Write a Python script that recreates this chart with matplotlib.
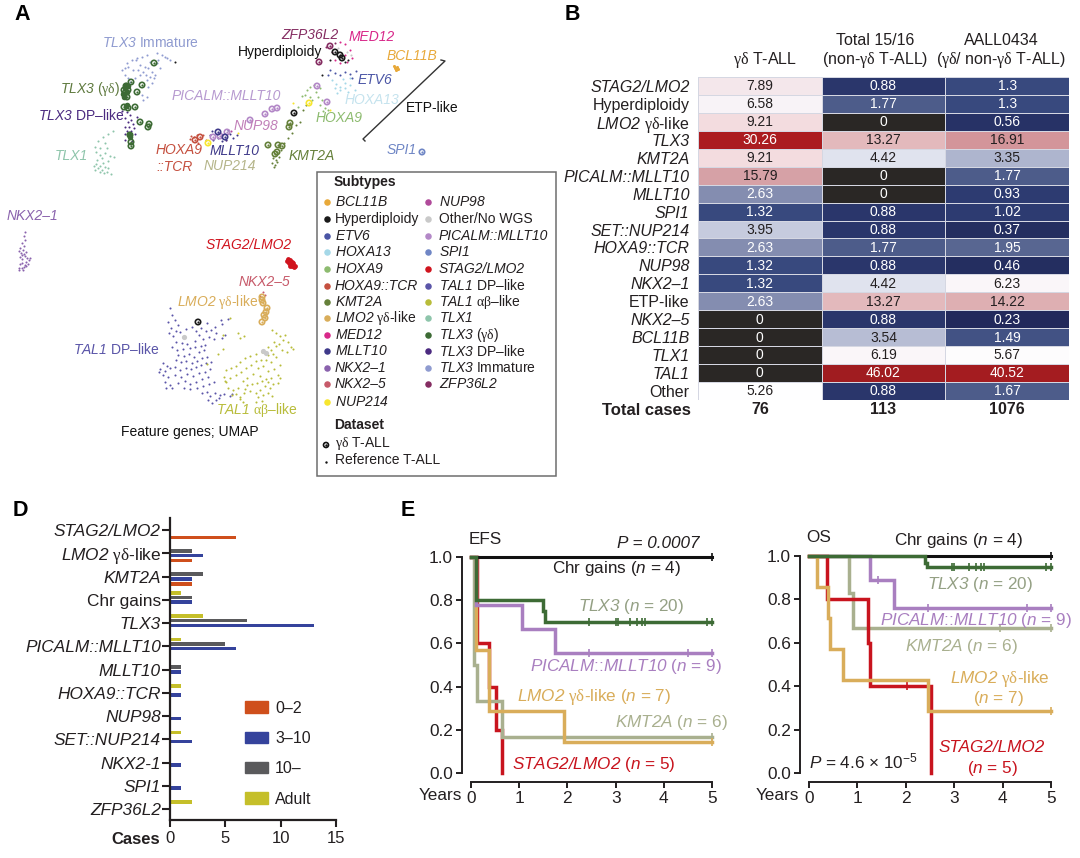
import matplotlib
matplotlib.use("Agg")
import matplotlib.pyplot as plt
from matplotlib.colors import LinearSegmentedColormap
from matplotlib.patches import Rectangle, Patch
import numpy as np

plt.rcParams.update({
    "font.family": ["Liberation Sans", "DejaVu Sans"],
    "mathtext.fontset": "custom",
    "mathtext.rm": "Liberation Sans:italic",
    "mathtext.it": "Liberation Sans:italic",
    "mathtext.bf": "Liberation Sans:bold",
    "mathtext.cal": "Liberation Serif",
    "mathtext.default": "regular",
    "text.color": "#231f20",
    "axes.edgecolor": "#231f20",
    "xtick.color": "#231f20",
    "ytick.color": "#231f20",
})
GD = r"$\mathcal{γδ}$"
AB = r"$\mathcal{αβ}$"
W, H = 1080, 858

# ---- Panel A: UMAP points (in panel pixel units) ----
tlx3_immature = [(127,63),(132,60),(137,58),(142,57),(147,55),(157,53),(162,55),(167,58),(170,60),(122,70),(125,68),(128,67),(133,70),(140,65),(145,67),(148,68),(143,72),(152,72),(157,63),(160,68),(155,75),(150,77),(154,78),(147,80),(125,75),(128,78),(135,78),(143,100),(147,97),(142,95),(152,83),(148,87),(140,75),(130,82),(136,60),(150,62),(158,60),(165,57),(146,75),(138,70)]
tlx3_dp = [(127,112),(130,115),(125,118),(131,120),(128,122),(133,124),(125,127),(129,127),(134,128),(127,131),(131,131),(125,134),(130,135),(135,134),(129,138),(125,140),(132,141),(137,117),(122,111)]
tlx3_gd_blob = [(125,88),(127,92),(123,94),(126,85),(128,86),(124,97),(126,106),(127,105),(129,134),(130,137)]
tlx3_gd_rings = [(154,63),(131,82),(142,85),(137,92),(126,86),(124,90),(128,90),(125,93),(127,97),(124,107),(128,108),(135,107),(140,122),(149,124),(148,127),(130,135),(131,142),(131,146)]
tlx1 = [(113,131),(108,134),(103,137),(98,141),(105,143),(95,147),(100,148),(107,148),(96,152),(100,155),(105,153),(110,156),(114,157),(97,160),(102,158),(108,161),(103,163),(96,164),(100,166),(94,166),(105,167),(98,168),(108,168),(102,170),(95,170),(107,172),(111,174),(100,172),(104,173)]
picalm_rings = [(265,114),(272,109),(277,108),(250,120),(213,137),(220,136),(227,132),(317,86),(327,102)]
nup98 = [(226,140),(222,135),(231,131)]
hoxa9tcr = [(191,136),(194,137),(198,143),(190,139),(203,135),(206,140),(197,135)]
hoxa9tcr_rings = [(195,140),(200,137)]
mllt10 = [(210,135),(213,140),(218,138),(222,141),(226,140),(230,134),(233,138),(228,130),(237,135),(212,131)]
mllt10_rings = [(218,132),(225,137)]
nup214 = [(238,133),(293,103),(330,110)]
nup214_rings = [(208,143),(309,103)]
kmt2a = [(273,158),(276,160),(272,163),(275,165),(277,162),(279,157),(281,150),(284,143),(288,138),(292,133),(296,125),(300,122),(303,110),(306,105),(274,167)]
kmt2a_rings = [(268,145),(278,145),(282,146),(277,152),(275,154),(290,123),(289,127)]
hoxa9 = [(307,90),(310,87),(314,85),(316,92),(320,88),(305,95),(310,97),(318,97),(322,100),(312,100),(320,105),(325,108),(323,111),(328,110),(302,96),(298,107)]
hoxa13 = [(332,80),(336,84),(340,87),(345,83),(340,90),(335,88),(345,88),(350,85),(350,78),(343,79),(337,93),(355,90),(348,92)]
etv6 = [(330,70),(335,73),(328,75),(345,72),(350,74),(356,71),(340,75),(352,78)]
med12 = [(340,42),(345,44),(350,50),(352,58),(347,62),(340,63),(335,60),(345,55)]
zfp = [(326,47),(335,43),(332,52)]
zfp_rings = [(330,46),(319,62)]
hyper = [(175,62),(330,60),(348,60),(322,75),(345,62)]
hyper_rings = [(335,52),(340,55),(342,58),(294,113),(198,322)]
other_nowgs = [(347,52),(351,55),(338,48)]
other_big = [(184,337),(266,353),(263,351)]
bcl11b = [(395,68),(397,67),(396,70),(394,66),(398,69)]
spi1_rings = [(422,152)]
nkx21 = [(25,232),(24,236),(25,240),(22,243),(24,246),(20,248),(23,250),(19,251),(26,252),(21,253),(24,254),(22,255),(25,256),(20,257),(27,258),(22,259),(29,260),(26,262),(22,263),(20,264),(25,265),(28,264),(24,267),(19,268),(22,268),(26,266),(19,270),(23,270),(30,258)]
stag2 = [(288,259),(290,260),(292,262),(289,263),(291,264),(293,265),(294,267),(290,266),(292,266),(287,261),(293,263),(295,266),(289,261),(291,262)]
nkx25 = [(263,292),(265,295),(260,296)]
lmo2_rings = [(262,297),(262,300),(263,303),(267,308),(266,312),(264,315),(265,318),(262,322)]
tal1_dp = [(170,308),(172,315),(168,322),(175,320),(178,325),(171,328),(176,331),(169,333),(180,332),(173,336),(183,337),(186,329),(192,327),(196,331),(201,328),(206,331),(211,330),(216,333),(221,320),(222,324),(228,319),(215,327),(207,323),(199,335),(203,339),(195,341),(209,337),(214,339),(225,335),(222,338),(176,342),(182,343),(187,344),(172,347),(177,350),(183,349),(190,348),(195,347),(201,346),(205,345),(178,355),(184,356),(189,354),(194,357),(199,352),(204,350),(186,361),(181,362),(176,360),(192,363),(197,361),(202,358),(207,357),(163,363),(167,366),(160,369),(165,371),(170,368),(159,372),(175,367),(180,370),(186,368),(191,369),(196,367),(201,365),(206,363),(211,362),(163,375),(168,377),(175,375),(181,377),(187,374),(193,376),(199,373),(205,372),(210,369),(165,382),(170,385),(166,388),(172,388),(178,383),(185,381),(190,384),(196,382),(202,379),(208,377),(184,388),(190,389),(197,388),(203,386),(209,384),(214,382),(207,392),(202,393),(210,396),(215,393),(220,395),(208,400),(212,403),(219,398),(224,394),(216,400),(230,396),(232,394)]
tal1_ab = [(230,318),(238,333),(223,335),(240,338),(218,354),(207,364),(223,349),(244,336),(272,330),(276,333),(280,336),(285,335),(274,342),(279,344),(283,340),(288,342),(291,347),(293,349),(287,352),(282,350),(276,346),(271,350),(268,347),(273,354),(268,355),(262,352),(256,354),(250,356),(245,358),(240,362),(236,366),(231,368),(226,370),(256,361),(261,360),(266,360),(271,362),(276,357),(251,365),(246,368),(241,372),(236,375),(230,378),(225,381),(224,377),(226,382),(258,368),(263,366),(268,371),(274,369),(280,365),(278,375),(271,378),(266,379),(260,376),(253,374),(247,378),(243,381),(247,385),(252,384),(257,383),(262,381),(268,382),(273,384),(278,383),(280,378),(270,388),(265,386),(260,390),(256,393),(250,391),(245,389),(238,388),(233,390),(236,394),(240,397),(244,393),(232,395),(258,397),(263,395),(268,393),(272,396),(256,402),(262,401),(243,402),(240,399),(228,388)]

subtypes_left = [r"$\mathit{BCL11B}$", "Hyperdiploidy", r"$\mathit{ETV6}$", r"$\mathit{HOXA13}$", r"$\mathit{HOXA9}$", "HOXA9::TCR", r"$\mathit{KMT2A}$", r"$\mathit{LMO2}$ " + GD + "-like", r"$\mathit{MED12}$", r"$\mathit{MLLT10}$", "NKX2–1", "NKX2–5", r"$\mathit{NUP214}$"]
subtypes_right = [r"$\mathit{NUP98}$", "Other/No WGS", "PICALM::MLLT10", r"$\mathit{SPI1}$", "STAG2/LMO2", r"$\mathit{TAL1}$ DP–like", r"$\mathit{TAL1}$ " + AB + "–like", r"$\mathit{TLX1}$", r"$\mathit{TLX3}$ (" + GD + ")", r"$\mathit{TLX3}$ DP–like", r"$\mathit{TLX3}$ Immature", r"$\mathit{ZFP36L2}$"]
colors_left = ["#e8a93a", "#1a1a1a", "#4a55a5", "#a5d8e8", "#8dbb6f", "#c5503f", "#65803a", "#d9ad5a", "#d8298a", "#3f3a8a", "#8a62ad", "#c75a6a", "#f7e62e"]
colors_right = ["#b04a9a", "#c9c9c9", "#b388c7", "#6f86c5", "#d0141e", "#5a55a8", "#b8bc3a", "#8ec5ab", "#3d6b35", "#4b2a80", "#8f9bd0", "#852d62"]
ITALIC_ENTRIES = {"HOXA9::TCR", "NKX2–1", "NKX2–5", "PICALM::MLLT10", "STAG2/LMO2"}

# ---- Panel B values ----
heat_rows = ["STAG2/LMO2", "Hyperdiploidy", r"$\mathit{LMO2}$ " + GD + "-like", "TLX3", "KMT2A", "PICALM::MLLT10", "MLLT10", "SPI1", "SET::NUP214", "HOXA9::TCR", "NUP98", "NKX2–1", "ETP-like", "NKX2–5", "BCL11B", "TLX1", "TAL1", "Other"]
heat_upright = {"Hyperdiploidy", "ETP-like", "Other", heat_rows[2]}
gd_tall = [7.89, 6.58, 9.21, 30.26, 9.21, 15.79, 2.63, 1.32, 3.95, 2.63, 1.32, 1.32, 2.63, 0, 0, 0, 0, 5.26]
total1516 = [0.88, 1.77, 0, 13.27, 4.42, 0, 0, 0.88, 0.88, 1.77, 0.88, 4.42, 13.27, 0.88, 3.54, 6.19, 46.02, 0.88]
aall0434 = [1.3, 1.3, 0.56, 16.91, 3.35, 1.77, 0.93, 1.02, 0.37, 1.95, 0.46, 6.23, 14.22, 0.23, 1.49, 5.67, 40.52, 1.67]
heat_cols = [GD + " T-ALL", "Total 15/16\n(non-" + GD + " T-ALL)", "AALL0434\n(" + GD + "/ non-" + GD + " T-ALL)"]
total_cases = ["76", "113", "1076"]

# ---- Panel D values ----
d_cats = ["STAG2/LMO2", r"$\mathit{LMO2}$ " + GD + "-like", "KMT2A", "Chr gains", "TLX3", "PICALM::MLLT10", "MLLT10", "HOXA9::TCR", "NUP98", "SET::NUP214", "NKX2-1", "SPI1", "ZFP36L2"]
age_0_2 = [6, 2, 2, 0, 0, 0, 0, 0, 0, 0, 0, 0, 0]
age_3_10 = [0, 3, 2, 2, 13, 6, 1, 1, 1, 2, 1, 1, 0]
age_10p = [0, 2, 3, 2, 7, 5, 1, 0, 0, 0, 0, 0, 0]
age_adult = [0, 0, 0, 1, 3, 1, 0, 1, 0, 1, 0, 0, 2]

# ---- Panel E values: step curves (years, survival) and censor times ----
COL_RED, COL_LMO, COL_KMT, COL_PIC, COL_TLX, COL_BLK = "#c8141e", "#d9ad5a", "#a9b08f", "#a97fc0", "#3d6b35", "#111111"
COL_TLX_TEXT = "#94a084"
efs_chr = ([0, 5], [1, 1])
efs_tlx3 = ([0, 0.1, 1.5, 1.54, 5], [1, 0.8, 0.75, 0.7, 0.7])
efs_pic = ([0, 0.1, 1.05, 1.75, 5], [1, 0.78, 0.667, 0.556, 0.556])
efs_lmo2 = ([0, 0.1, 0.38, 1.93, 5], [1, 0.57, 0.286, 0.143, 0.143])
efs_kmt = ([0, 0.07, 0.12, 0.65, 5], [1, 0.5, 0.333, 0.167, 0.167])
efs_stag = ([0, 0.13, 0.38, 0.52, 0.65], [1, 0.6, 0.4, 0.2, 0.0])
efs_tlx3_cens = [2.45, 3.0, 3.05, 3.3, 3.45, 3.55, 3.62, 4.9, 5]
efs_pic_cens = [2.45, 4.5, 5]
os_chr = ([0, 5], [1, 1])
os_tlx3 = ([0, 2.4, 2.43, 5], [1, 0.97, 0.95, 0.95])
os_pic = ([0, 1.27, 1.75, 5], [1, 0.89, 0.76, 0.76])
os_kmt = ([0, 0.82, 0.9, 5], [1, 0.83, 0.667, 0.667])
os_lmo2 = ([0, 0.17, 0.4, 0.43, 0.7, 2.45, 5], [1, 0.857, 0.714, 0.57, 0.43, 0.286, 0.286])
os_stag = ([0, 0.38, 1.22, 1.27, 2.53], [1, 0.8, 0.6, 0.4, 0.0])
os_tlx3_cens = [2.95, 3.0, 3.3, 3.45, 3.55, 3.62, 4.9, 5]
os_pic_cens = [1.42, 2.45, 4.5, 5]
os_kmt_cens = [3.95, 5]
os_stag_cens = [2.03]
os_lmo2_cens = [5]

fig = plt.figure(figsize=(10.8, 8.58), dpi=100, facecolor="white")

def box(x0, y0, x1, y1):
    return fig.add_axes([x0 / W, 1 - y1 / H, (x1 - x0) / W, (y1 - y0) / H])

for letter, x, y in [("A", 14, 14), ("B", 565, 15), ("D", 13, 511), ("E", 401, 511)]:
    fig.text(x / W, 1 - y / H, letter, fontsize=15.5, fontweight="bold", color="black", ha="left", va="center")

# ===== Panel A =====
axA = box(0, 0, 560, 480)
axA.set_xlim(0, 560); axA.set_ylim(480, 0); axA.axis("off")

def dots(pts, c, s=2.2, **kw):
    a = np.array(pts, float)
    axA.scatter(a[:, 0], a[:, 1], s=s, c=c, linewidths=0, **kw)

def rings(pts, c):
    a = np.array(pts, float)
    axA.scatter(a[:, 0], a[:, 1], s=15, facecolors="none", edgecolors=c, linewidths=1.2, zorder=3)
    axA.scatter(a[:, 0], a[:, 1], s=2.5, c=c, linewidths=0, zorder=3)

for pts, c in [(tlx3_immature, "#8f9bd0"), (tlx3_dp, "#4b2a80"), (tlx1, "#8ec5ab"), (nup98, "#b04a9a"),
               (hoxa9tcr, "#c5503f"), (mllt10, "#3f3a8a"), (nup214, "#f7e62e"), (kmt2a, "#65803a"),
               (hoxa9, "#8dbb6f"), (hoxa13, "#a5d8e8"), (etv6, "#4a55a5"), (med12, "#d8298a"),
               (zfp, "#852d62"), (hyper, "#1a1a1a"), (other_nowgs, "#c9c9c9"), (nkx21, "#8a62ad"),
               (nkx25, "#c75a6a"), (tal1_dp, "#5a55a8"), (tal1_ab, "#b8bc3a")]:
    dots(pts, c)
dots(tlx3_gd_blob, "#3d6b35", s=16)
dots(bcl11b, "#e8a93a", s=5)
dots(stag2, "#d0141e", s=12)
dots(other_big, "#c9c9c9", s=14)
for pts, c in [(tlx3_gd_rings, "#3d6b35"), (picalm_rings, "#b388c7"), (hoxa9tcr_rings, "#c5503f"),
               (mllt10_rings, "#3f3a8a"), (nup214_rings, "#f7e62e"), (kmt2a_rings, "#65803a"),
               (zfp_rings, "#852d62"), (hyper_rings, "#1a1a1a"), (spi1_rings, "#6f86c5"), (lmo2_rings, "#d9ad5a")]:
    rings(pts, c)

a_labels = [
    (102, 43, r"$\mathit{TLX3}$ Immature", "#8f9bd0", "normal"),
    (60, 89, r"$\mathit{TLX3}$ (" + GD + ")", "#5f7a3f", "normal"),
    (38, 115, r"$\mathit{TLX3}$ DP–like", "#4b2a80", "normal"),
    (55, 156, "TLX1", "#8ec5ab", "italic"),
    (172, 96, "PICALM::MLLT10", "#b79ad0", "italic"),
    (234, 126, "NUP98", "#c17fb8", "italic"),
    (156, 150, "HOXA9", "#c5503f", "italic"),
    (156, 167, "::TCR", "#c5503f", "italic"),
    (210, 151, "MLLT10", "#3f3a8a", "italic"),
    (204, 166, "NUP214", "#b5b58a", "italic"),
    (289, 156, "KMT2A", "#65803a", "italic"),
    (281, 35, "ZFP36L2", "#852d62", "italic"),
    (349, 37, "MED12", "#d8298a", "italic"),
    (238, 52, "Hyperdiploidy", "#111111", "normal"),
    (387, 56, "BCL11B", "#e8a93a", "italic"),
    (358, 80, "ETV6", "#4a55a5", "italic"),
    (345, 100, "HOXA13", "#c5e3ee", "italic"),
    (406, 108, "ETP-like", "#111111", "normal"),
    (316, 118, "HOXA9", "#8dbb6f", "italic"),
    (387, 150, "SPI1", "#6f86c5", "italic"),
    (7, 216, "NKX2–1", "#8a62ad", "italic"),
    (206, 245, "STAG2/LMO2", "#d0141e", "italic"),
    (239, 282, "NKX2–5", "#c75a6a", "italic"),
    (177, 302, r"$\mathit{LMO2}$ " + GD + "-like", "#d9ad5a", "normal"),
    (73, 349, r"$\mathit{TAL1}$ DP–like", "#5a55a8", "normal"),
    (216, 410, r"$\mathit{TAL1}$ " + AB + "–like", "#b8bc3a", "normal"),
    (121, 432, "Feature genes; UMAP", "#111111", "normal"),
]
for x, y, t, c, st in a_labels:
    axA.text(x, y, t, color=c, style=st, fontsize=10, ha="left", va="center")
axA.plot([441, 445, 363, 365], [60, 61, 139, 141], color="#333333", lw=1.0)

axA.add_patch(Rectangle((317, 172), 239, 304, fill=False, ec="#6d6d6d", lw=1.1))
axA.text(334, 182, "Subtypes", fontweight="bold", fontsize=10, va="center")
left_y = [202, 219, 236, 252, 269, 286, 302, 318, 335, 351, 368, 384, 402]
right_y = [202, 219, 236, 252, 269, 286, 302, 318, 335, 351, 368, 384]
for lab, c, y in zip(subtypes_left, colors_left, left_y):
    axA.scatter([327], [y], s=22, c=c, linewidths=0)
    axA.text(335, y, lab, fontsize=10, va="center", style="italic" if lab in ITALIC_ENTRIES else "normal")
for lab, c, y in zip(subtypes_right, colors_right, right_y):
    axA.scatter([428], [y], s=22, c=c, linewidths=0)
    axA.text(439, y, lab, fontsize=10, va="center", style="italic" if lab in ITALIC_ENTRIES else "normal")
axA.text(334, 425, "Dataset", fontweight="bold", fontsize=10, va="center")
axA.scatter([326], [445], s=13, facecolors="none", edgecolors="#111111", linewidths=1.2)
axA.scatter([326], [445], s=3, c="#111111", linewidths=0)
axA.text(335, 443, GD + " T-ALL", fontsize=10, va="center")
axA.scatter([326], [462], s=3, c="#111111", linewidths=0)
axA.text(335, 460, "Reference T-ALL", fontsize=10, va="center")

# ===== Panel B =====
axB = box(698, 77, 1069, 400)
M = np.array([gd_tall, total1516, aall0434]).T
nodes = [(0, "#1f2555"), (0.88, "#2c3a70"), (1.32, "#3a4b80"), (1.77, "#56648f"), (2.63, "#8a93b5"),
         (3.35, "#b4bad2"), (3.95, "#cdd1e2"), (4.42, "#e4e7f1"), (5.26, "#ffffff"), (6.58, "#f8f2f6"),
         (7.89, "#f4e6ea"), (9.21, "#f3dcdf"), (13.27, "#e3b8bb"), (15.79, "#d6a0a5"), (30.26, "#ab1c20"), (46.02, "#a01c20")]
cmap = LinearSegmentedColormap.from_list("hm", [(v / 46.02, c) for v, c in nodes])
cmap.set_bad("#2a2725")
axB.pcolormesh(np.arange(4), np.arange(19), np.ma.masked_equal(M, 0), cmap=cmap, vmin=0, vmax=46.02,
               edgecolors="#d5d7e2", linewidth=0.5)
axB.set_xlim(0, 3); axB.set_ylim(18, 0)
WHITE_ABOVE = 30
for i in range(M.shape[0]):
    for j in range(M.shape[1]):
        v = M[i, j]
        axB.text(j + 0.5, i + 0.52, f"{v:g}", ha="center", va="center", fontsize=10,
                 color="white" if (v <= 2.63 or v >= WHITE_ABOVE) else "#231f20")
axB.set_yticks(np.arange(18) + 0.5, heat_rows, fontsize=11.5)
for t, lab in zip(axB.get_yticklabels(), heat_rows):
    t.set_style("normal" if lab in heat_upright else "italic")
axB.tick_params(axis="y", length=0, pad=6)
axB.set_xticks([])
for s in axB.spines.values():
    s.set_visible(False)
for x, lab in zip([0.54, 1.43, 2.45], heat_cols):
    axB.text(x, -0.38, lab, ha="center", va="bottom", fontsize=11.5, linespacing=1.15)
for j, t in enumerate(total_cases):
    axB.text(j + 0.5, 18.55, t, ha="center", va="center", fontweight="bold", fontsize=11.5, clip_on=False)
axB.text(-0.056, 18.6, "Total cases", ha="right", va="center", fontweight="bold", fontsize=12)

# ===== Panel D =====
axD = box(170, 518, 336, 820)
axD.set_xlim(0, 15); axD.set_ylim(12.47, -0.516)
y = np.arange(len(d_cats))
BH = 0.15
for vals, off, c, lab in [(age_adult, -0.30, "#c5bf2a", "Adult"), (age_10p, -0.105, "#5a5a5c", "10–"),
                          (age_3_10, 0.10, "#35439c", "3–10"), (age_0_2, 0.315, "#cf4f1c", "0–2")]:
    axD.barh(y + off, vals, height=BH, color=c, linewidth=0)
axD.set_yticks(y, d_cats, fontsize=12.4)
for t, lab in zip(axD.get_yticklabels(), d_cats):
    t.set_style("normal" if lab in ("Chr gains", d_cats[1]) else "italic")
axD.set_xticks([0, 5, 10, 15]); axD.tick_params(axis="x", labelsize=12, width=1.5, length=5, pad=3)
axD.tick_params(axis="y", width=1.5, length=6, pad=0.5)
for s in ("top", "right"):
    axD.spines[s].set_visible(False)
for s in ("left", "bottom"):
    axD.spines[s].set_linewidth(1.6)
fig.text(160 / W, 1 - 840 / H, "Cases", fontweight="bold", fontsize=12, ha="right", va="center")
axD.legend(handles=[Patch(color="#cf4f1c", label="0–2"), Patch(color="#35439c", label="3–10"),
                    Patch(color="#5a5a5c", label="10–"), Patch(color="#c5bf2a", label="Adult")],
           loc="upper left", bbox_to_anchor=(0.45, 0.395), frameon=False, fontsize=11.5, handlelength=1.45,
           handleheight=0.72, labelspacing=0.96, handletextpad=0.45, borderpad=0, borderaxespad=0)

# ===== Panel E =====
def km_axes(x0, x1, y0, y1):
    ax = box(x0, y0, x1, y1)
    ax.set_xlim(0, 5); ax.set_ylim(0, 1)
    ax.patch.set_alpha(0)
    for s in ("top", "right"):
        ax.spines[s].set_visible(False)
    ax.spines["left"].set_position(("outward", 6.5))
    ax.spines["bottom"].set_position(("outward", 6.5))
    for s in ("left", "bottom"):
        ax.spines[s].set_linewidth(1.4)
    ax.set_xticks(range(6)); ax.set_yticks([0, 0.2, 0.4, 0.6, 0.8, 1.0])
    ax.tick_params(labelsize=12.4, width=1.4, length=4.5, pad=2)
    return ax

def curve(ax, xy, c, cens=(), lw=2.5):
    ax.step(xy[0], xy[1], where="post", color=c, lw=lw, clip_on=False, solid_joinstyle="miter")
    if len(cens):
        xs = np.array(xy[0], float); ys = np.array(xy[1], float)
        yc = [ys[np.searchsorted(xs, t, side="right") - 1] for t in cens]
        ax.plot(cens, yc, ls="none", marker="|", ms=6, mew=1.2, color=c, clip_on=False)

axE1 = km_axes(471, 712, 557, 773)
curve(axE1, efs_stag, COL_RED)
curve(axE1, efs_kmt, COL_KMT, [5])
curve(axE1, efs_lmo2, COL_LMO, [5])
curve(axE1, efs_pic, COL_PIC, efs_pic_cens)
curve(axE1, efs_chr, COL_BLK, [5], lw=2.2)
curve(axE1, efs_tlx3, COL_TLX, efs_tlx3_cens)
N = lambda k: r"($\mathit{n}$ = " + str(k) + ")"
axE2 = km_axes(809, 1051, 556, 773)
curve(axE2, os_chr, COL_BLK, [5], lw=2.2)
curve(axE2, os_pic, COL_PIC, os_pic_cens)
curve(axE2, os_kmt, COL_KMT, os_kmt_cens)
curve(axE2, os_stag, COL_RED, os_stag_cens)
curve(axE2, os_lmo2, COL_LMO, os_lmo2_cens)
curve(axE2, os_tlx3, COL_TLX, os_tlx3_cens)

def ptext(x, y, s, c="#231f20", ha="left", style="normal"):
    fig.text(x / W, 1 - y / H, s, color=c, ha=ha, va="center", fontsize=12.3, style=style)

ptext(469, 539, "EFS")
ptext(617, 544, "P = 0.0007", style="italic")
ptext(552, 568, "Chr gains " + N(4))
ptext(578, 606, r"$\mathit{TLX3}$ " + N(20), c=COL_TLX_TEXT)
ptext(530, 666, r"$\mathit{PICALM}$::$\mathit{MLLT10}$ " + N(9), c=COL_PIC)
ptext(517, 697, r"$\mathit{LMO2}$ " + GD + "-like " + N(7), c=COL_LMO)
ptext(615, 722, r"$\mathit{KMT2A}$ " + N(6), c=COL_KMT)
ptext(512, 765, r"$\mathit{STAG2/LMO2}$ " + N(5), c=COL_RED)
ptext(440, 796, "Years", ha="center")

ptext(806, 537, "OS")
ptext(894, 541, "Chr gains " + N(4))
ptext(927, 585, r"$\mathit{TLX3}$ " + N(20), c=COL_TLX_TEXT)
ptext(880, 620, r"$\mathit{PICALM}$::$\mathit{MLLT10}$ " + N(9), c=COL_PIC)
ptext(905, 646, r"$\mathit{KMT2A}$ " + N(6), c=COL_KMT)
ptext(1000, 679, r"$\mathit{LMO2}$ " + GD + "-like", c=COL_LMO, ha="center")
ptext(998, 699, N(7), c=COL_LMO, ha="center")
ptext(992, 747, "STAG2/LMO2", c=COL_RED, ha="center", style="italic")
ptext(992, 769, N(5), c=COL_RED, ha="center")
ptext(809, 761, r"$\mathit{P}$ = 4.6 × 10$^{-5}$")
ptext(777, 796, "Years", ha="center")

fig.savefig("out.png", dpi=100)
